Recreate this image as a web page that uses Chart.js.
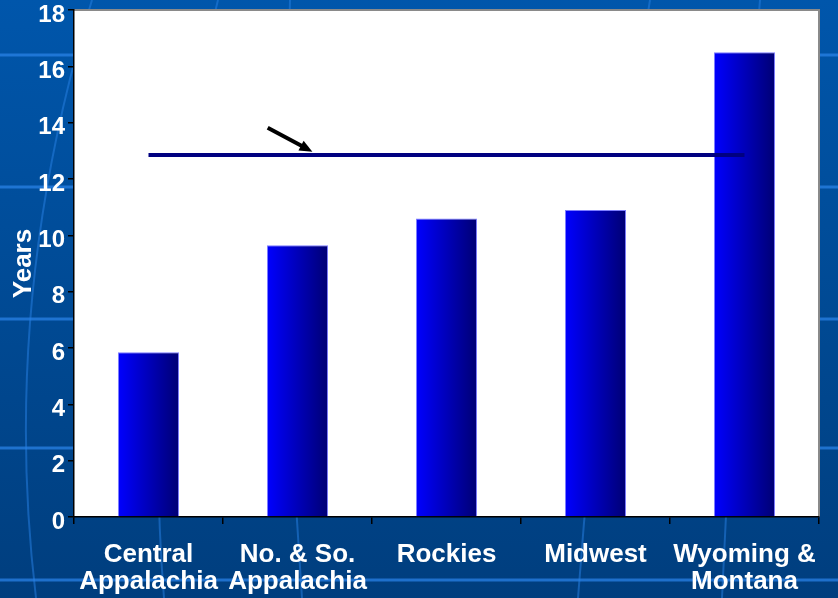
<!DOCTYPE html>
<html>
<head>
<meta charset="utf-8">
<script src="https://cdn.jsdelivr.net/npm/chart.js@4/dist/chart.umd.min.js"></script>
<style>
  html, body { margin: 0; padding: 0; background: #004a94; }
  #chart { display: block; }
</style>
</head>
<body>
<canvas id="chart" width="838" height="598"></canvas>
<script>
// regions and years
const regions = [
  ["Central", "Appalachia"],
  ["No. & So.", "Appalachia"],
  ["Rockies"],
  ["Midwest"],
  ["Wyoming &", "Montana"]
];
const years = [5.85, 9.65, 10.6, 10.9, 16.5];
const averageYears = [12.85, 12.85, 12.85, 12.85, 12.85];
const yTicks = [0, 2, 4, 6, 8, 10, 12, 14, 16, 18];

const FONT = "'Liberation Sans', Arial, sans-serif";
const BAR_PCT = 0.41;


// ================= Slide background + white plot area =================
const backdrop = {
  id: "backdrop",
  beforeDraw(chart) {
    const { ctx, width, height, chartArea: a } = chart;
    ctx.save();

    let bg = ctx.createLinearGradient(0, 0, 0, height);
    bg.addColorStop(0, "#0056ab");
    bg.addColorStop(1, "#003e7e");
    ctx.fillStyle = bg;
    ctx.fillRect(0, 0, width, height);

    // faint globe lines of the template
    ctx.strokeStyle = "rgba(40,130,230,0.75)";
    ctx.lineWidth = 3;
    [55, 187, 319, 448, 580].forEach(y => {
      ctx.beginPath();
      ctx.moveTo(0, y);
      ctx.lineTo(width, y);
      ctx.stroke();
    });
    ctx.strokeStyle = "rgba(40,130,230,0.5)";
    ctx.lineWidth = 2;
    [[92, 0, 36], [218, 140, 164], [290, 280, 302], [650, 600, 578], [760, 735, 722]].forEach(([top, mid, bot]) => {
      ctx.beginPath();
      ctx.moveTo(top, 0);
      ctx.quadraticCurveTo(mid, 300, bot, height);
      ctx.stroke();
    });

    ctx.fillStyle = "#ffffff";
    ctx.fillRect(a.left, a.top, a.right - a.left, a.bottom - a.top);
    ctx.strokeStyle = "#8a8a8a";
    ctx.lineWidth = 2;
    ctx.beginPath();
    ctx.moveTo(a.left, a.top);
    ctx.lineTo(a.right, a.top);
    ctx.lineTo(a.right, a.bottom);
    ctx.stroke();
    ctx.restore();
  }
};


// bright blue on the left fading to navy on the right of each bar
function barGradient(context) {
  const chart = context.chart;
  const x = chart.scales.x;
  if (!chart.chartArea || !x) return "#0000ff";
  const cx = x.getPixelForValue(context.dataIndex);
  const half = (x.width / regions.length) * BAR_PCT / 2;
  let g = chart.ctx.createLinearGradient(cx - half, 0, cx + half, 0);
  g.addColorStop(0, "#0000ff");
  g.addColorStop(1, "#000074");
  return g;
}


// ================= Arrow pointing at the average line =================
const arrow = {
  id: "arrow",
  afterDatasetsDraw(chart) {
    const { ctx, scales: { x, y } } = chart;
    const x0 = x.getPixelForValue(0.8), y0 = y.getPixelForValue(13.82);
    const x1 = x.getPixelForValue(1.1), y1 = y.getPixelForValue(12.97);
    const ang = Math.atan2(y1 - y0, x1 - x0);
    const head = 14;

    ctx.save();
    ctx.strokeStyle = "#000";
    ctx.fillStyle = "#000";
    ctx.lineWidth = 4;
    ctx.beginPath();
    ctx.moveTo(x0, y0);
    ctx.lineTo(x1 - Math.cos(ang) * head * 0.7, y1 - Math.sin(ang) * head * 0.7);
    ctx.stroke();
    ctx.beginPath();
    ctx.moveTo(x1, y1);
    ctx.lineTo(x1 - head * Math.cos(ang - 0.4), y1 - head * Math.sin(ang - 0.4));
    ctx.lineTo(x1 - head * Math.cos(ang + 0.4), y1 - head * Math.sin(ang + 0.4));
    ctx.closePath();
    ctx.fill();
    ctx.restore();
  }
};


// ================= Chart =================
new Chart(document.getElementById("chart"), {
  type: "bar",
  data: {
    labels: regions,
    datasets: [
      {
        type: "bar",
        data: years,
        backgroundColor: barGradient,
        borderColor: "#7d7dff",
        borderWidth: 1,
        borderSkipped: "bottom",
        barPercentage: BAR_PCT,
        categoryPercentage: 1,
        order: 2
      },
      {
        type: "line",
        data: averageYears,
        borderColor: "#000080",
        borderWidth: 4,
        pointRadius: 0,
        order: 1
      }
    ]
  },
  options: {
    responsive: false,
    animation: false,
    events: [],
    layout: { padding: { top: 10, right: 19, left: 0, bottom: 0 } },
    plugins: {
      legend: { display: false },
      tooltip: { enabled: false }
    },
    scales: {
      x: {
        offset: true,
        grid: {
          offset: true,
          drawOnChartArea: false,
          color: "#000",
          tickLength: 7,
          lineWidth: 1.5
        },
        border: { color: "#000", width: 1.5 },
        ticks: {
          color: "#fff",
          padding: 17,
          maxRotation: 0,
          autoSkip: false,
          font: { family: FONT, size: 26, weight: "bold", lineHeight: 1.04 }
        },
        afterFit(scale) {
          scale.height = 81;
          scale.paddingLeft = 0;
          scale.paddingRight = 0;
        }
      },
      y: {
        min: 0,
        max: 18,
        afterBuildTicks(scale) {
          scale.ticks = yTicks.map(v => ({ value: v }));
        },
        grid: {
          drawOnChartArea: false,
          color: "#000",
          tickLength: 6,
          lineWidth: 1.5
        },
        border: { color: "#000", width: 1.5 },
        ticks: {
          color: "#fff",
          padding: 3,
          labelOffset: 5,
          font: { family: FONT, size: 24, weight: "bold" }
        },
        title: {
          display: true,
          text: "Years",
          color: "#fff",
          padding: { top: 8, bottom: 0 },
          font: { family: FONT, size: 26, weight: "bold" }
        },
        afterFit(scale) {
          scale.width = 74;
          scale.paddingTop = 0;
          scale.paddingBottom = 0;
        }
      }
    }
  },
  plugins: [backdrop, arrow]
});
</script>
</body>
</html>
